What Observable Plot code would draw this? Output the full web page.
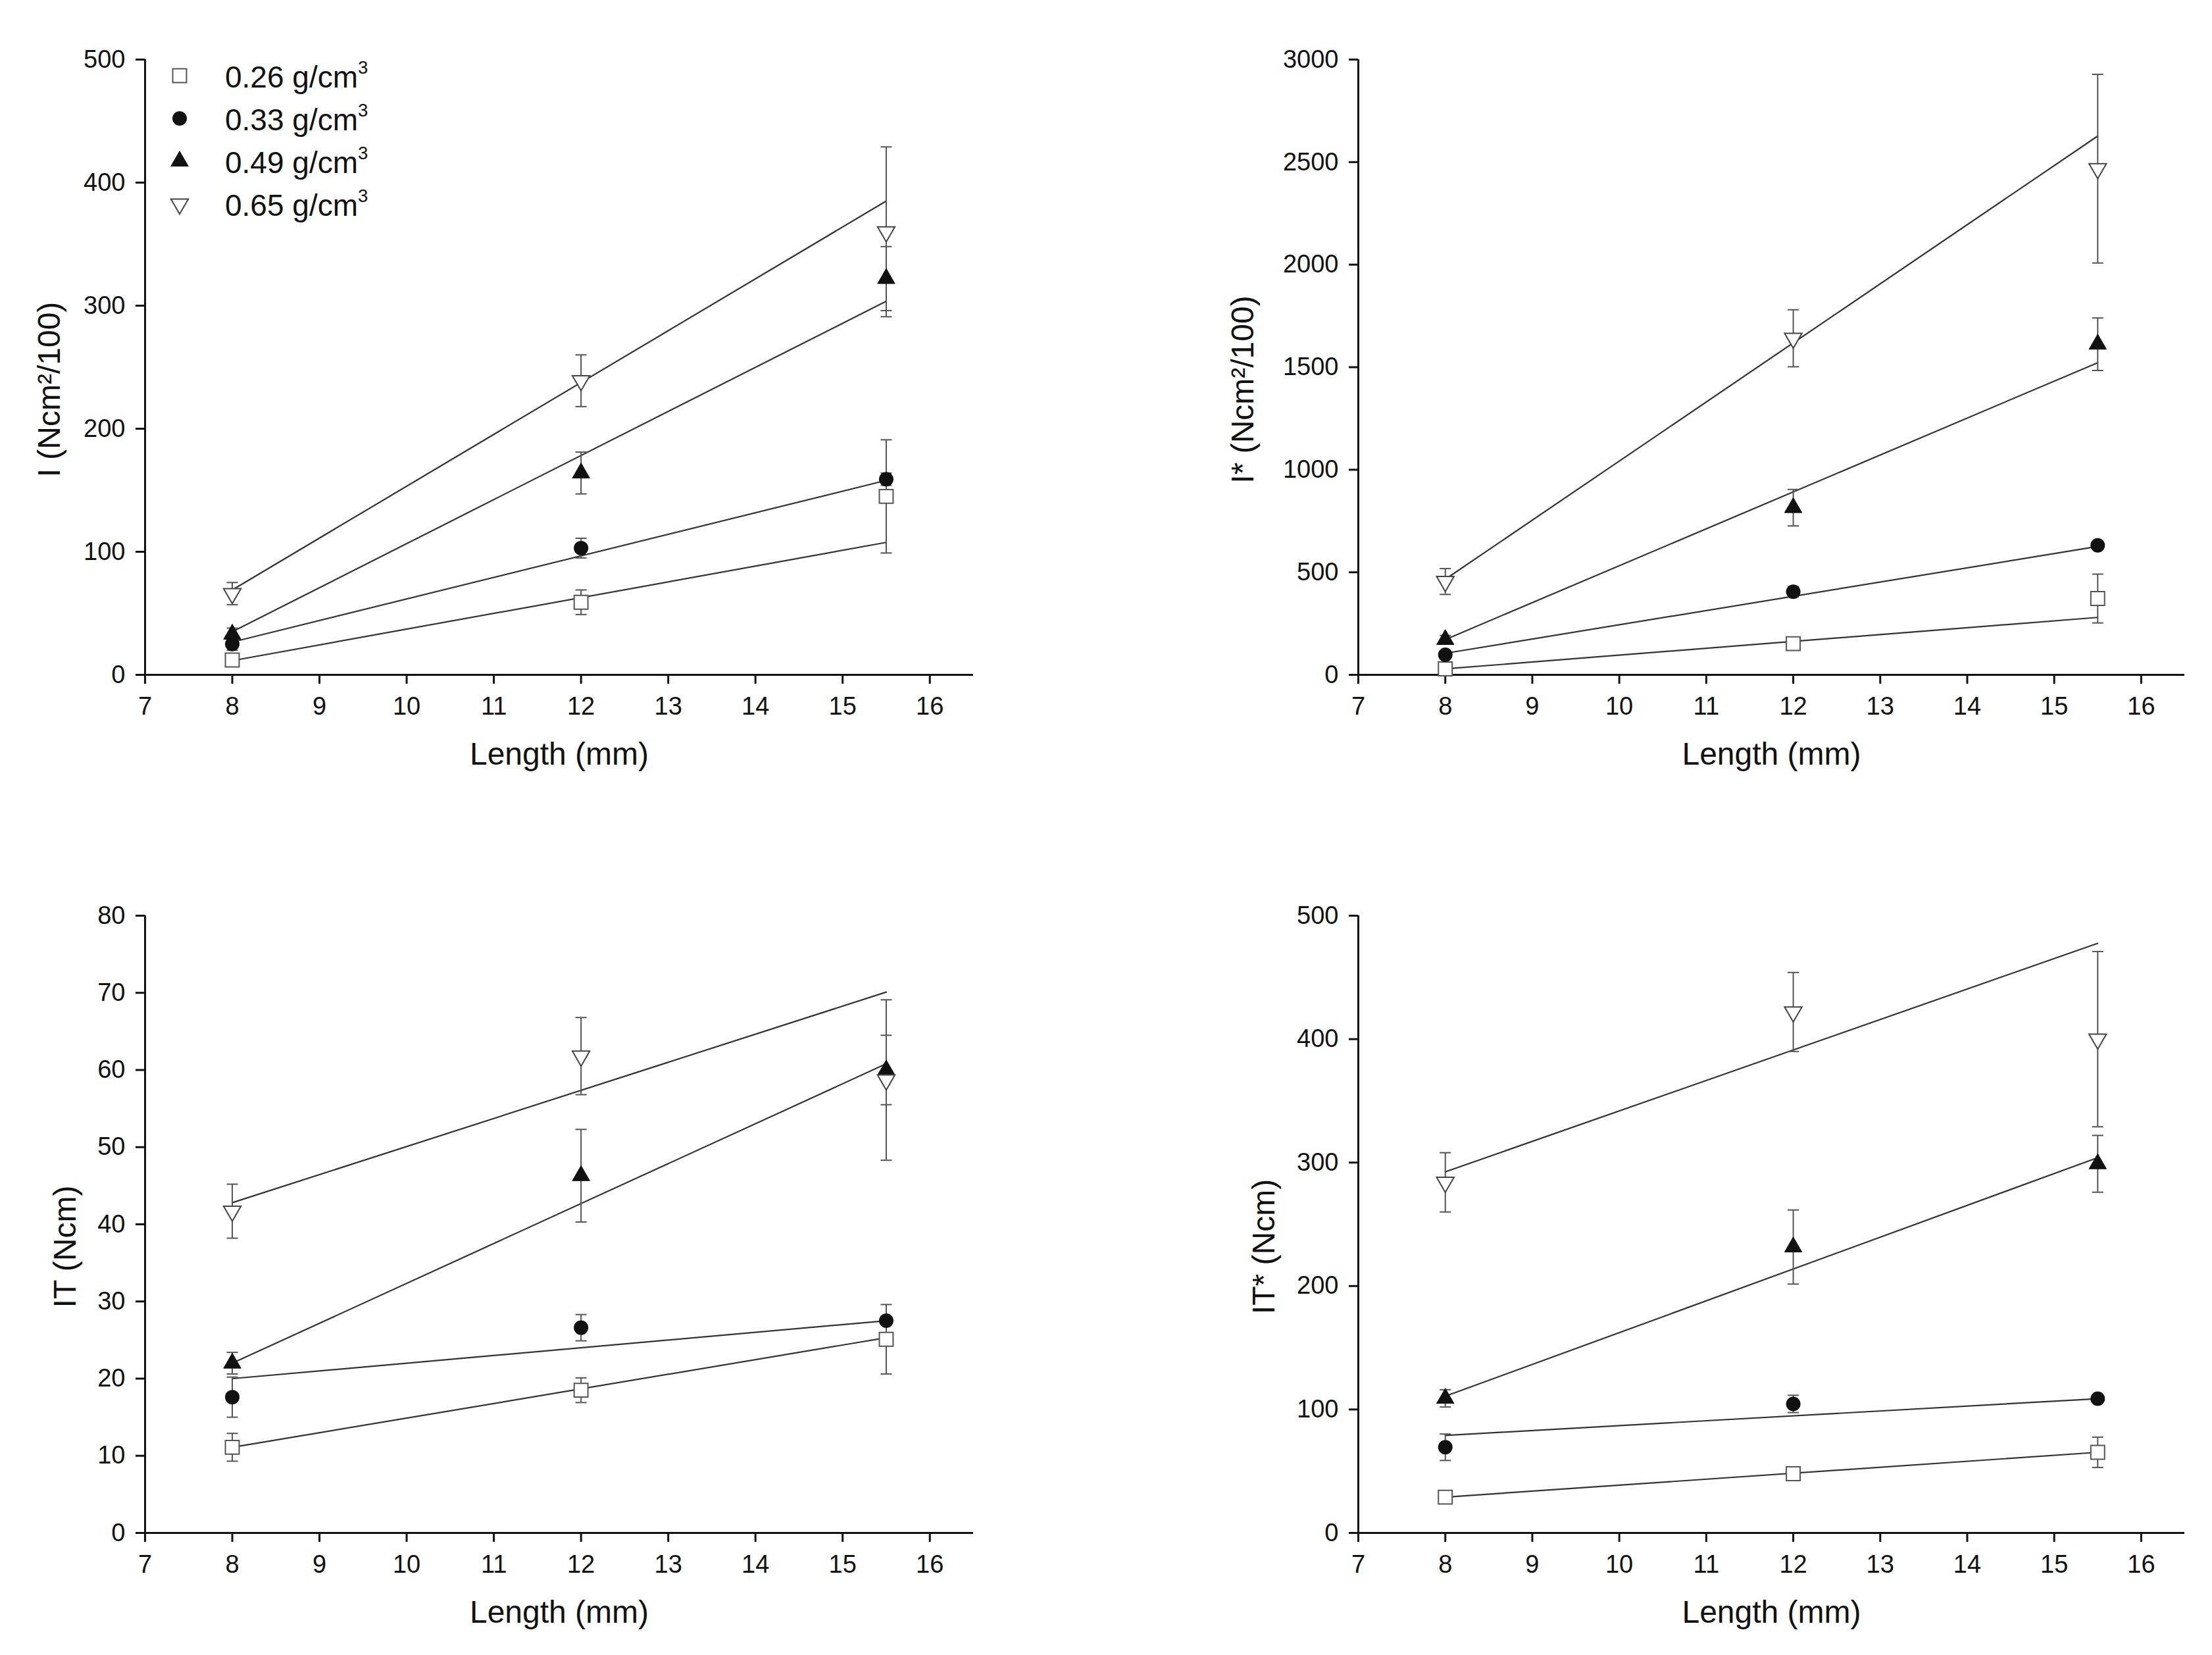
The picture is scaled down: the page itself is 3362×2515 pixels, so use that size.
<!DOCTYPE html>
<html>
<head>
<meta charset="utf-8">
<script src="https://cdn.jsdelivr.net/npm/d3@7"></script>
<script src="https://cdn.jsdelivr.net/npm/@observablehq/plot@0.6"></script>
<style>
  body { margin: 0; background: #fff; }
  #page {
    position: relative;
    width: 3362px;
    height: 2515px;
    display: grid;
    grid-template-columns: 1681px 1681px;
    grid-template-rows: 1257px 1258px;
  }
  #page svg g[aria-label="x-axis label"],
  #page svg g[aria-label="y-axis label"] { font-size: 48px; }
  #page svg g[aria-label="y-axis label"] { translate: 0 34px; }
  #legend {
    position: absolute;
    left: 250px;
    top: 82px;
    font-family: "Liberation Sans", Arial, sans-serif;
    font-size: 46px;
    color: #111;
  }
  #legend .row { display: flex; align-items: center; height: 65px; }
  #legend .row span { margin-left: 46px; line-height: 1; }
  #legend sup { font-size: 0.6em; vertical-align: 0.75em; }
</style>
</head>
<body>
<div id="page"><div id="legend"></div></div>
<script>
// lengths and densities
const lengths = [8, 12, 15.5];
const fitLengths = [8, 15.5];
const densities = ["0.26", "0.33", "0.49", "0.65"];
const xTicks = [7, 8, 9, 10, 11, 12, 13, 14, 15, 16];

// I (Ncm2/100): means, sd, fitted line at 8 and 15.5 mm
const iMean = [[12, 59, 145], [25, 103, 159], [33, 164, 322], [66, 239, 360]];
const iErr  = [[4, 10, 46], [5, 8, 5], [5, 17, 26], [9, 21, 69]];
const iFit  = [[11.5, 107.6], [26.6, 158], [35, 303.6], [69, 385]];
const iTicks = [0, 100, 200, 300, 400, 500];

// I* (Ncm2/100)
const isMean = [[29, 152, 372], [98, 405, 631], [172, 815, 1612], [455, 1641, 2468]];
const isErr  = [[15, 20, 119], [15, 25, 20], [20, 89, 128], [63, 139, 460]];
const isFit  = [[29, 280], [105, 626], [172, 1522], [466, 2627]];
const isTicks = [0, 500, 1000, 1500, 2000, 2500, 3000];

// IT (Ncm)
const itMean = [[11.1, 18.5, 25.1], [17.6, 26.6, 27.5], [22.0, 46.3, 60.0], [41.7, 61.8, 58.7]];
const itErr  = [[1.8, 1.6, 4.5], [2.6, 1.7, 0.5], [1.4, 6.0, 4.5], [3.5, 5.0, 10.4]];
const itFit  = [[11.1, 25.3], [20.0, 27.5], [22.0, 60.8], [42.8, 70.1]];
const itTicks = [0, 10, 20, 30, 40, 50, 60, 70, 80];

// IT* (Ncm)
const itsMean = [[29, 48, 65.3], [69.4, 104.5, 108.7], [109, 231.6, 299], [284, 422, 400]];
const itsErr  = [[3, 3, 12.3], [10.7, 7, 3], [7, 30, 23], [24, 32, 71]];
const itsFit  = [[29, 65.3], [79, 108.7], [110.7, 304], [292.5, 477.6]];
const itsTicks = [0, 100, 200, 300, 400, 500];

const triangleDown = {
  draw(context, size) {
    const y = Math.sqrt(size / (Math.sqrt(3) * 3));
    context.moveTo(0, y * 2);
    context.lineTo(-Math.sqrt(3) * y, -y);
    context.lineTo(Math.sqrt(3) * y, -y);
    context.closePath();
  }
};
const cap = {
  draw(context, size) {
    const w = Math.sqrt(size) / 2;
    context.moveTo(-w, 0);
    context.lineTo(w, 0);
  }
};

const markers = [
  {symbol: "square", r: 11.8, fill: "white", stroke: "#555", strokeWidth: 2},
  {symbol: "circle", r: 11, fill: "#111", stroke: "none"},
  {symbol: "triangle", r: 9.8, fill: "#111", stroke: "#111", strokeWidth: 1},
  {symbol: triangleDown, r: 9.8, fill: "white", stroke: "#444", strokeWidth: 2}
];

const panels = [
  {label: "I (Ncm²/100)", mean: iMean, err: iErr, fit: iFit, ticks: iTicks,
   margins: {marginLeft: 220, marginRight: 202, marginTop: 90, marginBottom: 232}, height: 1257, yOffset: 164},
  {label: "I* (Ncm²/100)", mean: isMean, err: isErr, fit: isFit, ticks: isTicks,
   margins: {marginLeft: 383, marginRight: 42, marginTop: 90, marginBottom: 232}, height: 1257, yOffset: 194},
  {label: "IT (Ncm)", mean: itMean, err: itErr, fit: itFit, ticks: itTicks,
   margins: {marginLeft: 220, marginRight: 202, marginTop: 134, marginBottom: 186}, height: 1258, yOffset: 140},
  {label: "IT* (Ncm)", mean: itsMean, err: itsErr, fit: itsFit, ticks: itsTicks,
   margins: {marginLeft: 383, marginRight: 42, marginTop: 134, marginBottom: 186}, height: 1258, yOffset: 162}
];

const page = document.getElementById("page");

for (const p of panels) {
  const points = p.mean.flatMap((s, i) => s.map((y, j) => ({k: i, x: lengths[j], y, err: p.err[i][j]})));
  const fits = p.fit.flatMap((s, i) => s.map((y, j) => ({k: i, x: fitLengths[j], y})));
  const yMax = p.ticks[p.ticks.length - 1];

  const chart = Plot.plot({
    width: 1681,
    height: p.height,
    ...p.margins,
    style: {fontFamily: '"Liberation Sans", Arial, sans-serif', color: "#111", background: "white"},
    x: {domain: [7, 16.5]},
    y: {domain: [0, yMax]},
    marks: [
      Plot.axisX({ticks: xTicks, tickFormat: "d", tickSize: 14, tickPadding: 20, strokeWidth: 3, fontSize: 38,
        label: "Length (mm)", labelAnchor: "center", labelArrow: false, labelOffset: 136}),
      Plot.axisY({ticks: p.ticks, tickFormat: "d", tickSize: 14, tickPadding: 16, strokeWidth: 3, fontSize: 38,
        label: p.label, labelAnchor: "center", labelArrow: false, labelOffset: p.yOffset}),
      Plot.ruleY([0], {stroke: "#111", strokeWidth: 3}),
      Plot.ruleX([7], {stroke: "#111", strokeWidth: 3}),
      Plot.line(fits, {x: "x", y: "y", z: "k", stroke: "#333", strokeWidth: 2.2}),
      Plot.ruleX(points, {x: "x", y1: d => d.y - d.err, y2: d => d.y + d.err, stroke: "#555", strokeWidth: 2}),
      Plot.dot(points, {x: "x", y: d => d.y + d.err, symbol: cap, r: 9.6, stroke: "#555", strokeWidth: 2}),
      Plot.dot(points, {x: "x", y: d => d.y - d.err, symbol: cap, r: 9.6, stroke: "#555", strokeWidth: 2}),
      ...markers.map((m, i) => Plot.dot(points.filter(d => d.k === i), {x: "x", y: "y", ...m}))
    ]
  });
  page.appendChild(chart);
}

// legend in the first panel
const legend = d3.select("#legend");
densities.forEach((d, i) => {
  const m = markers[i];
  const type = typeof m.symbol === "string"
    ? {square: d3.symbolSquare, circle: d3.symbolCircle, triangle: d3.symbolTriangle}[m.symbol]
    : m.symbol;
  const row = legend.append("div").attr("class", "row");
  const svg = row.append("svg").attr("width", 46).attr("height", 46);
  svg.append("path")
    .attr("transform", "translate(23,23)")
    .attr("d", d3.symbol(type, Math.PI * m.r * m.r)())
    .attr("fill", m.fill)
    .attr("stroke", m.stroke)
    .attr("stroke-width", m.strokeWidth || 0);
  row.append("span").html(`${d} g/cm<sup>3</sup>`);
});
</script>
</body>
</html>
